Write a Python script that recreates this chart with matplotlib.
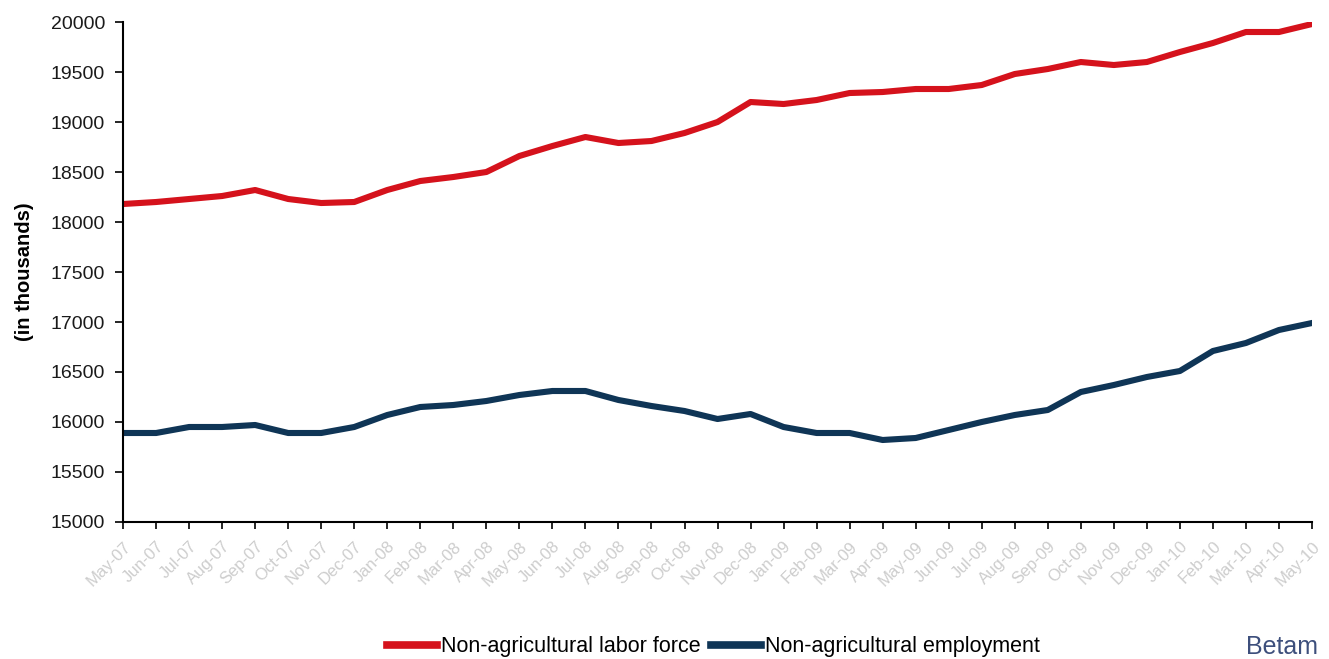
import matplotlib
matplotlib.use("Agg")
import matplotlib.pyplot as plt

plt.rcParams['font.family'] = ['Liberation Sans', 'DejaVu Sans']

months = ["May-07", "Jun-07", "Jul-07", "Aug-07", "Sep-07", "Oct-07", "Nov-07", "Dec-07",
          "Jan-08", "Feb-08", "Mar-08", "Apr-08", "May-08", "Jun-08", "Jul-08", "Aug-08",
          "Sep-08", "Oct-08", "Nov-08", "Dec-08", "Jan-09", "Feb-09", "Mar-09", "Apr-09",
          "May-09", "Jun-09", "Jul-09", "Aug-09", "Sep-09", "Oct-09", "Nov-09", "Dec-09",
          "Jan-10", "Feb-10", "Mar-10", "Apr-10", "May-10"]

# non-agricultural labor force (thousands)
labor_force = [18180, 18200, 18230, 18260, 18320, 18230, 18190, 18200, 18320, 18410,
               18450, 18500, 18660, 18760, 18850, 18790, 18810, 18890, 19000, 19200,
               19180, 19220, 19290, 19300, 19330, 19330, 19370, 19480, 19530, 19600,
               19570, 19600, 19700, 19790, 19900, 19900, 19980]

# non-agricultural employment (thousands)
employment = [15890, 15890, 15950, 15950, 15970, 15890, 15890, 15950, 16070, 16150,
              16170, 16210, 16270, 16310, 16310, 16220, 16160, 16110, 16030, 16080,
              15950, 15890, 15890, 15820, 15840, 15920, 16000, 16070, 16120, 16300,
              16370, 16450, 16510, 16710, 16790, 16920, 16990]

fig = plt.figure(figsize=(13.29, 6.59), dpi=100)
ax = fig.add_axes([0.0926, 0.2079, 0.8946, 0.7587])

x = range(len(months))
ax.plot(x, labor_force, color="#d5121c", lw=4.4, label="Non-agricultural labor force",
        solid_joinstyle="round")
ax.plot(x, employment, color="#0f3556", lw=4.4, label="Non-agricultural employment",
        solid_joinstyle="round")

ax.set_xlim(0, len(months) - 1)
ax.set_ylim(15000, 20000)
ax.set_yticks(range(15000, 20001, 500))
ax.tick_params(axis="y", labelsize=14, labelcolor="#1a1a1a", direction="out", length=6, width=1.2, pad=7)
ax.set_xticks(list(x))
ax.set_xticklabels(months, rotation=45, ha="right", rotation_mode="anchor",
                   fontsize=12, color="#cdcdcd")
ax.tick_params(axis="x", direction="out", length=5, width=1.2, pad=7)

for s in ["top", "right"]:
    ax.spines[s].set_visible(False)
for s in ["left", "bottom"]:
    ax.spines[s].set_linewidth(1.5)

ax.set_ylabel("(in thousands)", fontsize=14.5, fontweight="bold", labelpad=12)

leg = fig.legend(loc="lower center", bbox_to_anchor=(0.537, -0.027), ncol=2, frameon=False,
                 fontsize=15.5, handlelength=2.3, columnspacing=0.5, handletextpad=0.2)
for h in leg.get_lines():
    h.set_linewidth(5.5)

fig.text(0.965, 0.0, "Betam", fontsize=18, color="#3d4f7c", ha="center", va="bottom")

fig.savefig("out.png", dpi=100)
